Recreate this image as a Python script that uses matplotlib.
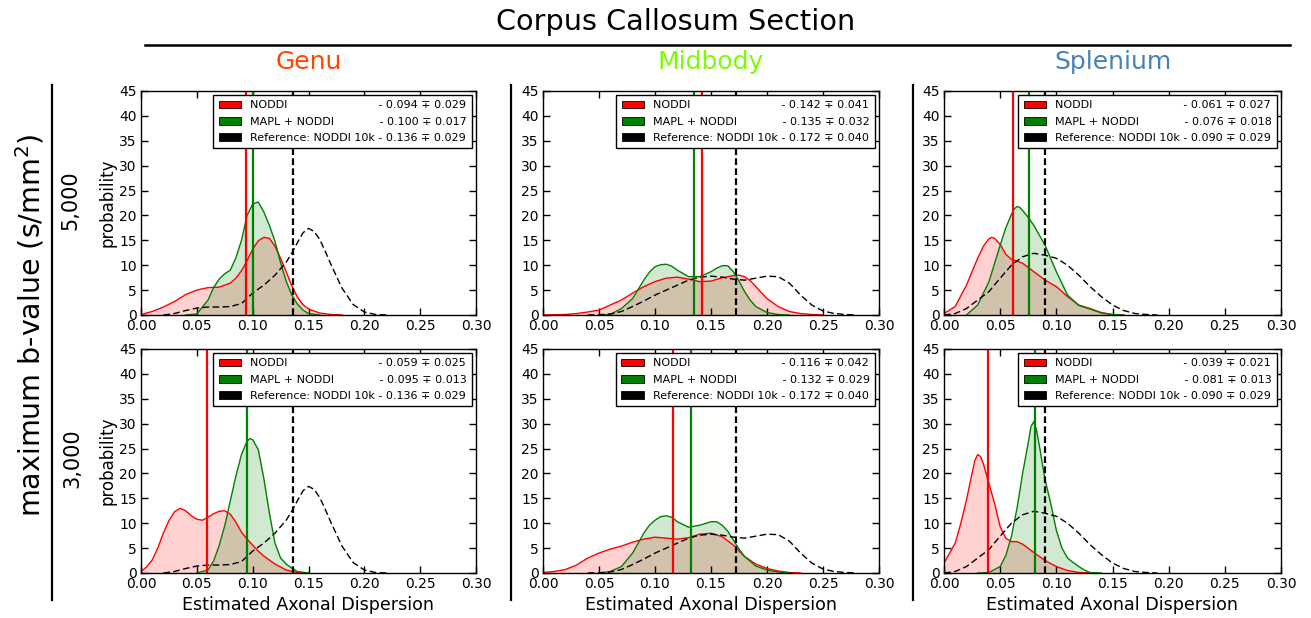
import numpy as np
import matplotlib
matplotlib.use('Agg')
import matplotlib.pyplot as plt
from matplotlib.patches import Patch
from matplotlib.lines import Line2D
from matplotlib.textpath import TextPath
from matplotlib.font_manager import FontProperties

plt.rcParams['font.family'] = ['DejaVu Sans']
plt.rcParams['lines.scale_dashes'] = False

# ---------------- data ----------------
sections = ['Genu', 'Midbody', 'Splenium']
section_colors = ['#FF4500', '#7CFC00', '#4682B4']
bvalues = ['5,000', '3,000']
method_names = ['NODDI', 'MAPL + NODDI', 'Reference: NODDI 10k']

noddi_mean = [[0.094, 0.142, 0.061], [0.059, 0.116, 0.039]]
noddi_std = [[0.029, 0.041, 0.027], [0.025, 0.042, 0.021]]
mapl_mean = [[0.100, 0.135, 0.076], [0.095, 0.132, 0.081]]
mapl_std = [[0.017, 0.032, 0.018], [0.013, 0.029, 0.013]]
ref_mean = [0.136, 0.172, 0.090]
ref_std = [0.029, 0.040, 0.029]

# reference densities (one per section, same for both b-values)
genu_ref_x = [0.02, 0.03, 0.04, 0.05, 0.06, 0.07, 0.08, 0.09, 0.10, 0.11, 0.12, 0.13, 0.135, 0.14, 0.145, 0.15, 0.155, 0.16, 0.165, 0.17, 0.18, 0.19, 0.20, 0.21, 0.22]
genu_ref_y = [0.0, 0.3, 0.9, 1.4, 1.6, 1.6, 1.7, 2.3, 4.4, 6.0, 8.0, 10.6, 12.4, 14.5, 16.5, 17.4, 16.8, 15.2, 12.8, 10.2, 5.4, 2.1, 0.6, 0.1, 0.0]
mid_ref_x = [0.04, 0.05, 0.06, 0.07, 0.08, 0.09, 0.10, 0.11, 0.12, 0.13, 0.14, 0.15, 0.16, 0.17, 0.18, 0.19, 0.20, 0.21, 0.22, 0.23, 0.24, 0.25, 0.26, 0.27, 0.28]
mid_ref_y = [0.0, 0.05, 0.2, 0.7, 1.7, 2.8, 4.0, 5.0, 6.0, 7.0, 7.6, 7.8, 7.6, 7.2, 7.0, 7.4, 7.8, 7.7, 6.4, 4.0, 2.0, 0.8, 0.3, 0.1, 0.0]
spl_ref_x = [0.00, 0.01, 0.02, 0.03, 0.04, 0.05, 0.06, 0.07, 0.08, 0.09, 0.10, 0.11, 0.12, 0.13, 0.14, 0.15, 0.16, 0.17, 0.18, 0.19]
spl_ref_y = [0.0, 0.3, 1.3, 3.0, 4.7, 7.4, 10.0, 11.7, 12.4, 12.0, 11.4, 10.0, 8.0, 5.7, 3.7, 2.0, 0.9, 0.3, 0.1, 0.0]

# b = 5,000
genu5_noddi_x = [0.00, 0.01, 0.02, 0.03, 0.04, 0.05, 0.06, 0.07, 0.08, 0.085, 0.09, 0.095, 0.10, 0.105, 0.11, 0.115, 0.12, 0.125, 0.13, 0.135, 0.14, 0.145, 0.15, 0.16, 0.17, 0.18]
genu5_noddi_y = [0.1, 0.7, 1.6, 2.7, 4.1, 5.0, 5.5, 5.6, 6.4, 7.4, 8.9, 10.9, 13.2, 14.9, 15.6, 15.4, 13.8, 11.4, 8.7, 5.9, 3.6, 2.1, 1.2, 0.4, 0.1, 0.0]
genu5_mapl_x = [0.04, 0.05, 0.06, 0.065, 0.07, 0.075, 0.08, 0.085, 0.09, 0.095, 0.10, 0.105, 0.11, 0.115, 0.12, 0.125, 0.13, 0.135, 0.14, 0.145, 0.15, 0.16]
genu5_mapl_y = [0.0, 0.2, 3.0, 5.5, 7.2, 8.3, 9.0, 11.5, 15.0, 20.0, 22.3, 22.7, 20.7, 18.0, 14.8, 10.5, 6.8, 4.0, 2.2, 1.0, 0.3, 0.0]
mid5_noddi_x = [0.00, 0.02, 0.03, 0.04, 0.05, 0.06, 0.07, 0.08, 0.09, 0.10, 0.11, 0.12, 0.13, 0.14, 0.15, 0.16, 0.17, 0.175, 0.18, 0.185, 0.19, 0.20, 0.21, 0.22, 0.23, 0.24, 0.25]
mid5_noddi_y = [0.0, 0.1, 0.3, 0.6, 1.0, 2.0, 3.0, 4.4, 5.7, 6.7, 7.4, 7.6, 7.2, 6.7, 6.8, 7.5, 7.9, 8.0, 7.7, 6.9, 5.7, 3.3, 1.7, 0.7, 0.3, 0.1, 0.0]
mid5_mapl_x = [0.05, 0.06, 0.07, 0.08, 0.09, 0.095, 0.10, 0.105, 0.11, 0.115, 0.12, 0.13, 0.14, 0.15, 0.155, 0.16, 0.165, 0.17, 0.175, 0.18, 0.185, 0.19, 0.20, 0.21, 0.22]
mid5_mapl_y = [0.0, 0.1, 1.3, 3.3, 7.0, 8.6, 9.7, 10.1, 10.2, 9.8, 9.0, 7.7, 7.7, 8.7, 9.4, 9.9, 9.9, 8.7, 6.8, 4.7, 3.0, 1.7, 0.5, 0.1, 0.0]
spl5_noddi_x = [0.00, 0.01, 0.02, 0.03, 0.035, 0.04, 0.0425, 0.045, 0.05, 0.055, 0.06, 0.07, 0.08, 0.09, 0.10, 0.11, 0.12, 0.13, 0.14, 0.15, 0.16]
spl5_noddi_y = [0.3, 1.7, 6.0, 11.4, 13.8, 15.3, 15.6, 15.4, 14.2, 12.2, 11.2, 10.4, 8.7, 7.0, 5.7, 3.7, 2.0, 1.3, 0.5, 0.1, 0.0]
spl5_mapl_x = [0.02, 0.03, 0.04, 0.05, 0.055, 0.06, 0.0625, 0.065, 0.0675, 0.07, 0.075, 0.08, 0.085, 0.09, 0.10, 0.11, 0.12, 0.13, 0.14, 0.15, 0.16]
spl5_mapl_y = [0.0, 2.0, 6.7, 14.0, 17.5, 20.2, 21.3, 21.8, 21.6, 21.0, 19.6, 18.0, 16.0, 14.0, 8.7, 4.0, 1.9, 1.2, 0.4, 0.1, 0.0]

# b = 3,000
genu3_noddi_x = [0.00, 0.005, 0.01, 0.015, 0.02, 0.025, 0.03, 0.035, 0.04, 0.045, 0.05, 0.055, 0.06, 0.065, 0.07, 0.075, 0.08, 0.085, 0.09, 0.095, 0.10, 0.105, 0.11, 0.12, 0.13, 0.14, 0.15]
genu3_noddi_y = [0.3, 1.2, 2.6, 5.0, 8.0, 10.5, 12.3, 13.0, 12.5, 11.5, 10.8, 10.6, 11.2, 11.9, 12.4, 12.5, 11.8, 10.2, 8.2, 6.8, 5.6, 4.4, 3.4, 1.8, 0.6, 0.1, 0.0]
genu3_mapl_x = [0.05, 0.06, 0.065, 0.07, 0.075, 0.08, 0.085, 0.09, 0.095, 0.0975, 0.10, 0.105, 0.11, 0.115, 0.12, 0.125, 0.13, 0.135, 0.14, 0.15]
genu3_mapl_y = [0.0, 0.6, 2.4, 5.5, 9.5, 14.5, 19.5, 23.8, 26.5, 27.0, 26.8, 24.8, 19.0, 12.0, 6.0, 3.0, 1.8, 1.0, 0.3, 0.0]
mid3_noddi_x = [0.00, 0.01, 0.02, 0.03, 0.04, 0.05, 0.06, 0.07, 0.08, 0.09, 0.10, 0.11, 0.12, 0.13, 0.14, 0.15, 0.16, 0.17, 0.18, 0.19, 0.20, 0.21, 0.22, 0.23]
mid3_noddi_y = [0.1, 0.3, 0.7, 1.6, 3.0, 4.0, 4.8, 5.4, 6.2, 6.8, 7.2, 7.0, 6.8, 7.1, 7.8, 8.0, 7.3, 5.6, 3.3, 1.8, 0.9, 0.4, 0.1, 0.0]
mid3_mapl_x = [0.05, 0.06, 0.07, 0.08, 0.09, 0.095, 0.10, 0.105, 0.11, 0.115, 0.12, 0.13, 0.14, 0.15, 0.155, 0.16, 0.165, 0.17, 0.175, 0.18, 0.19, 0.20, 0.21, 0.22]
mid3_mapl_y = [0.0, 0.3, 1.3, 4.0, 8.0, 9.6, 10.6, 11.3, 11.5, 11.2, 10.3, 9.2, 9.6, 10.3, 10.3, 9.6, 8.4, 6.6, 4.8, 3.3, 1.4, 0.6, 0.2, 0.0]
spl3_noddi_x = [0.00, 0.01, 0.015, 0.02, 0.025, 0.0275, 0.03, 0.0325, 0.035, 0.04, 0.045, 0.05, 0.055, 0.06, 0.065, 0.07, 0.08, 0.09, 0.10, 0.11, 0.12, 0.13]
spl3_noddi_y = [2.0, 6.0, 10.0, 14.7, 20.0, 22.6, 23.8, 23.4, 22.0, 18.0, 14.0, 9.3, 7.0, 6.3, 6.3, 5.8, 4.1, 2.5, 1.3, 0.5, 0.1, 0.0]
spl3_mapl_x = [0.03, 0.04, 0.05, 0.055, 0.06, 0.065, 0.07, 0.075, 0.0775, 0.08, 0.0825, 0.085, 0.09, 0.095, 0.10, 0.105, 0.11, 0.115, 0.12, 0.125, 0.13, 0.14]
spl3_mapl_y = [0.0, 0.1, 1.3, 3.5, 7.3, 13.0, 20.0, 26.2, 29.5, 30.4, 28.6, 25.4, 18.7, 14.0, 8.6, 5.0, 3.0, 2.1, 1.3, 0.6, 0.1, 0.0]

ref_curves = [(genu_ref_x, genu_ref_y), (mid_ref_x, mid_ref_y), (spl_ref_x, spl_ref_y)]
noddi_curves = [[(genu5_noddi_x, genu5_noddi_y), (mid5_noddi_x, mid5_noddi_y), (spl5_noddi_x, spl5_noddi_y)],
                [(genu3_noddi_x, genu3_noddi_y), (mid3_noddi_x, mid3_noddi_y), (spl3_noddi_x, spl3_noddi_y)]]
mapl_curves = [[(genu5_mapl_x, genu5_mapl_y), (mid5_mapl_x, mid5_mapl_y), (spl5_mapl_x, spl5_mapl_y)],
               [(genu3_mapl_x, genu3_mapl_y), (mid3_mapl_x, mid3_mapl_y), (spl3_mapl_x, spl3_mapl_y)]]

xticks = [0.00, 0.05, 0.10, 0.15, 0.20, 0.25, 0.30]
yticks = [0, 5, 10, 15, 20, 25, 30, 35, 40, 45]

# ---------------- figure ----------------
W, H = 1311, 618
fig = plt.figure(figsize=(W / 100, H / 100), dpi=100)

col_px = [(141, 476), (543, 879), (944, 1281)]
row_px = [(91, 315), (349, 573)]

leg_fp = FontProperties(family='DejaVu Sans', size=8)


def text_width(s):
    return TextPath((0, 0), s, prop=leg_fp).get_extents().width


def legend_labels(vals):
    full = [n + ' ' + v for n, v in zip(method_names, vals)]
    target = max(text_width(s) for s in full)
    out = []
    for n, v in zip(method_names, vals):
        best, bestd = None, 1e9
        for k in range(1, 60):
            s = n + ' ' * k + v
            d = abs(text_width(s) - target)
            if d < bestd:
                best, bestd = s, d
        out.append(best)
    return out


for r in range(2):
    for c in range(3):
        x0, x1 = col_px[c]
        y0, y1 = row_px[r]
        ax = fig.add_axes([x0 / W, 1 - y1 / H, (x1 - x0) / W, (y1 - y0) / H])

        nx, ny = noddi_curves[r][c]
        ax.fill_between(nx, ny, 0, color='red', alpha=0.18, lw=0)
        ax.plot(nx, ny, color='red', lw=1)
        gx, gy = mapl_curves[r][c]
        ax.fill_between(gx, gy, 0, color='green', alpha=0.18, lw=0)
        ax.plot(gx, gy, color='green', lw=1)
        rx, ry = ref_curves[c]
        ax.plot(rx, ry, color='black', lw=1, ls=(0, (4.8, 2.4)))

        ax.axvline(noddi_mean[r][c], color='red', lw=1.6)
        ax.axvline(mapl_mean[r][c], color='green', lw=1.6)
        ax.axvline(ref_mean[c], color='black', lw=1.6, ls=(0, (4.8, 2.4)))

        ax.set_xlim(0, 0.30)
        ax.set_ylim(0, 45)
        ax.set_xticks(xticks)
        ax.set_xticklabels(['%.2f' % t for t in xticks])
        ax.set_yticks(yticks)
        ax.tick_params(direction='in', top=True, right=True, length=5, width=1,
                       labelsize=10, pad=3, colors='black')
        for sp in ax.spines.values():
            sp.set_linewidth(1)
            sp.set_color('black')

        vals = ['- %.3f \u2213 %.3f' % (noddi_mean[r][c], noddi_std[r][c]),
                '- %.3f \u2213 %.3f' % (mapl_mean[r][c], mapl_std[r][c]),
                '- %.3f \u2213 %.3f' % (ref_mean[c], ref_std[c])]
        labels = legend_labels(vals)
        handles = [Patch(facecolor='red', edgecolor='black', lw=0.6),
                   Patch(facecolor='green', edgecolor='black', lw=0.6),
                   Patch(facecolor='black', edgecolor='black', lw=0.6)]
        leg = ax.legend(handles, labels, loc='upper right', prop=leg_fp,
                        fancybox=False, framealpha=1, edgecolor='black',
                        borderaxespad=0.35, borderpad=0.5, labelspacing=0.55,
                        handlelength=2.0, handleheight=0.7, handletextpad=0.8)
        leg.get_frame().set_linewidth(1)

        if c == 0:
            fig.text(108 / W, 1 - ((y0 + y1) / 2) / H, 'probability', rotation=90,
                     ha='center', va='center', fontsize=12)
        if r == 1:
            fig.text(((x0 + x1) / 2) / W, 1 - 605 / H, 'Estimated Axonal Dispersion',
                     ha='center', va='center', fontsize=12.6)
        if r == 0:
            fig.text(((x0 + x1) / 2) / W, 1 - 62 / H, sections[c],
                     color=section_colors[c], ha='center', va='center', fontsize=18)

# headers and separators
fig.text(676 / W, 1 - 22 / H, 'Corpus Callosum Section', ha='center', va='center', fontsize=20.7)
fig.add_artist(Line2D([145 / W, 1290 / W], [1 - 45 / H, 1 - 45 / H], color='black', lw=1.8,
                      transform=fig.transFigure))
for xs in (52, 511, 913):
    fig.add_artist(Line2D([xs / W, xs / W], [1 - 85 / H, 1 - 600 / H], color='black', lw=1.6,
                          transform=fig.transFigure))

fig.text(30 / W, 1 - 325 / H, 'maximum b-value (s/mm$^2$)', rotation=90,
         ha='center', va='center', fontsize=20.5)
fig.text(70 / W, 1 - 200 / H, bvalues[0], rotation=90, ha='center', va='center', fontsize=15)
fig.text(72 / W, 1 - 458 / H, bvalues[1], rotation=90, ha='center', va='center', fontsize=15)

fig.savefig('out.png', dpi=100)
